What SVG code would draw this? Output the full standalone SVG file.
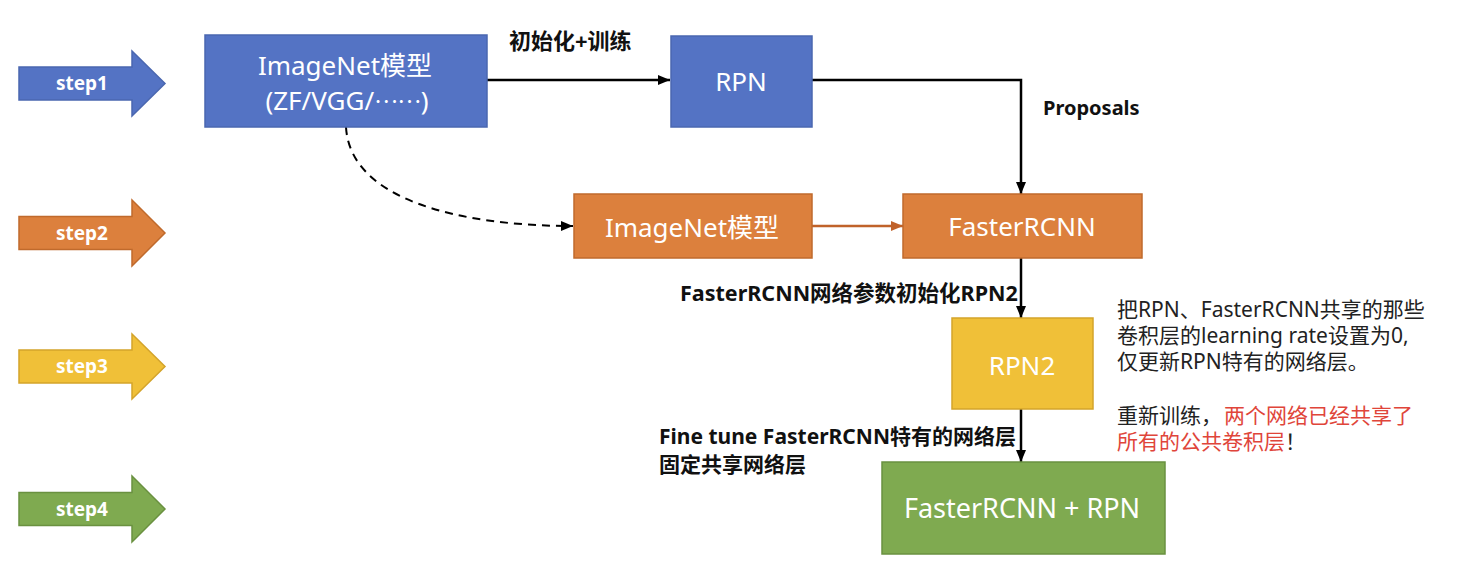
<svg xmlns="http://www.w3.org/2000/svg" width="1483" height="569" viewBox="0 0 1483 569">
<style>
.box-text{font-family:"Noto Sans","Noto Sans CJK SC",sans-serif;font-size:26px;fill:#ffffff;text-anchor:middle}
.step-text{font-family:"Noto Sans","Noto Sans CJK SC",sans-serif;font-size:19px;font-weight:700;fill:#ffffff;text-anchor:middle}
.label{font-family:"Noto Sans","Noto Sans CJK SC",sans-serif;font-size:21px;font-weight:700;fill:#111111}
.note{font-family:"Noto Sans","Noto Sans CJK SC",sans-serif;font-size:21px;fill:#222222}
.red{fill:#E0453A}
.cjk{font-family:"Noto Sans CJK SC",sans-serif}
.blue{fill:#5473C4;stroke:#4A67B0;stroke-width:1.5}
.orange{fill:#DC803D;stroke:#C06A2C;stroke-width:1.5}
.yellow{fill:#F0C038;stroke:#D4A42A;stroke-width:1.5}
.green{fill:#7FAA50;stroke:#6A9140;stroke-width:1.5}
.conn{fill:none;stroke:#000000;stroke-width:2.5}
.dash{stroke-dasharray:8 6;stroke-width:2}
.conn-orange{fill:none;stroke:#C0622A;stroke-width:2.5}
</style>
<defs>
<marker id="ah" viewBox="0 0 12 10" refX="12" refY="5" markerWidth="12" markerHeight="10" markerUnits="userSpaceOnUse" orient="auto">
<path d="M0,0 L12,5 L0,10 z" fill="#000000"/>
</marker>
<marker id="ah-o" viewBox="0 0 12 10" refX="12" refY="5" markerWidth="12" markerHeight="10" markerUnits="userSpaceOnUse" orient="auto">
<path d="M0,0 L12,5 L0,10 z" fill="#C0622A"/>
</marker>
</defs>
<rect x="0" y="0" width="1483" height="569" fill="#ffffff"/>

<g id="step1">
<polygon class="blue" points="19,67 132,67 132,51 165,83.5 132,116 132,100 19,100"/>
<text class="step-text" x="82" y="90">step1</text>
</g>
<g id="step2">
<polygon class="orange" points="19,216.5 132,216.5 132,200 165,233 132,266 132,249.5 19,249.5"/>
<text class="step-text" x="82" y="240">step2</text>
</g>
<g id="step3">
<polygon class="yellow" points="19,350 132,350 132,334 165,366.5 132,399 132,383 19,383"/>
<text class="step-text" x="82" y="373">step3</text>
</g>
<g id="step4">
<polygon class="green" points="19,492.5 132,492.5 132,476 165,509 132,542 132,525.5 19,525.5"/>
<text class="step-text" x="82" y="516">step4</text>
</g>

<g id="connectors">
<path class="conn" d="M487,80 H670" marker-end="url(#ah)"/>
<path class="conn" d="M812,80 H1021 V194" marker-end="url(#ah)"/>
<path class="conn dash" d="M346,127 C350,200 460,226 573,226" marker-end="url(#ah)"/>
<path class="conn-orange" d="M812,226 H903" marker-end="url(#ah-o)"/>
<path class="conn" d="M1021,258 V318" marker-end="url(#ah)"/>
<path class="conn" d="M1021,409 V462" marker-end="url(#ah)"/>
</g>

<g id="imagenet1">
<rect class="blue" x="205" y="35" width="282" height="92"/>
<text class="box-text" x="345" y="75">ImageNet模型</text>
<text class="box-text" x="347" y="110">(ZF/VGG/<tspan class="cjk" style="font-size:22px" dy="-7">……</tspan><tspan dy="7">)</tspan></text>
</g>
<g id="rpn">
<rect class="blue" x="671" y="36" width="141" height="91"/>
<text class="box-text" x="741" y="91">RPN</text>
</g>
<g id="imagenet2">
<rect class="orange" x="574" y="194" width="238" height="64"/>
<text class="box-text" x="692" y="237">ImageNet模型</text>
</g>
<g id="fasterrcnn">
<rect class="orange" x="903" y="194" width="239" height="64"/>
<text class="box-text" x="1022" y="236">FasterRCNN</text>
</g>
<g id="rpn2">
<rect class="yellow" x="952" y="318" width="141" height="91"/>
<text class="box-text" x="1022" y="375">RPN2</text>
</g>
<g id="final">
<rect class="green" x="882" y="462" width="283" height="92"/>
<text class="box-text" x="1022" y="518" style="font-size:27px">FasterRCNN + RPN</text>
</g>

<g id="labels">
<text class="label" x="509" y="49" style="font-size:22px">初始化+训练</text>
<text class="label" x="1043" y="115" style="font-size:20px">Proposals</text>
<text class="label" x="680" y="301" style="font-size:21.5px">FasterRCNN网络参数初始化RPN2</text>
<text class="label" x="659" y="444">Fine tune FasterRCNN特有的网络层</text>
<text class="label" x="659" y="472">固定共享网络层</text>
</g>

<g id="note">
<text class="note" x="1117" y="317">把RPN、FasterRCNN共享的那些</text>
<text class="note" x="1117" y="343">卷积层的learning rate设置为0,</text>
<text class="note" x="1117" y="369">仅更新RPN特有的网络层。</text>
<text class="note" x="1117" y="423">重新训练，</text>
<text class="note red" x="1224" y="423">两个网络已经共享了</text>
<text class="note red" x="1117" y="449">所有的公共卷积层</text>
<text class="note" x="1285" y="449">！</text>
</g>
</svg>
